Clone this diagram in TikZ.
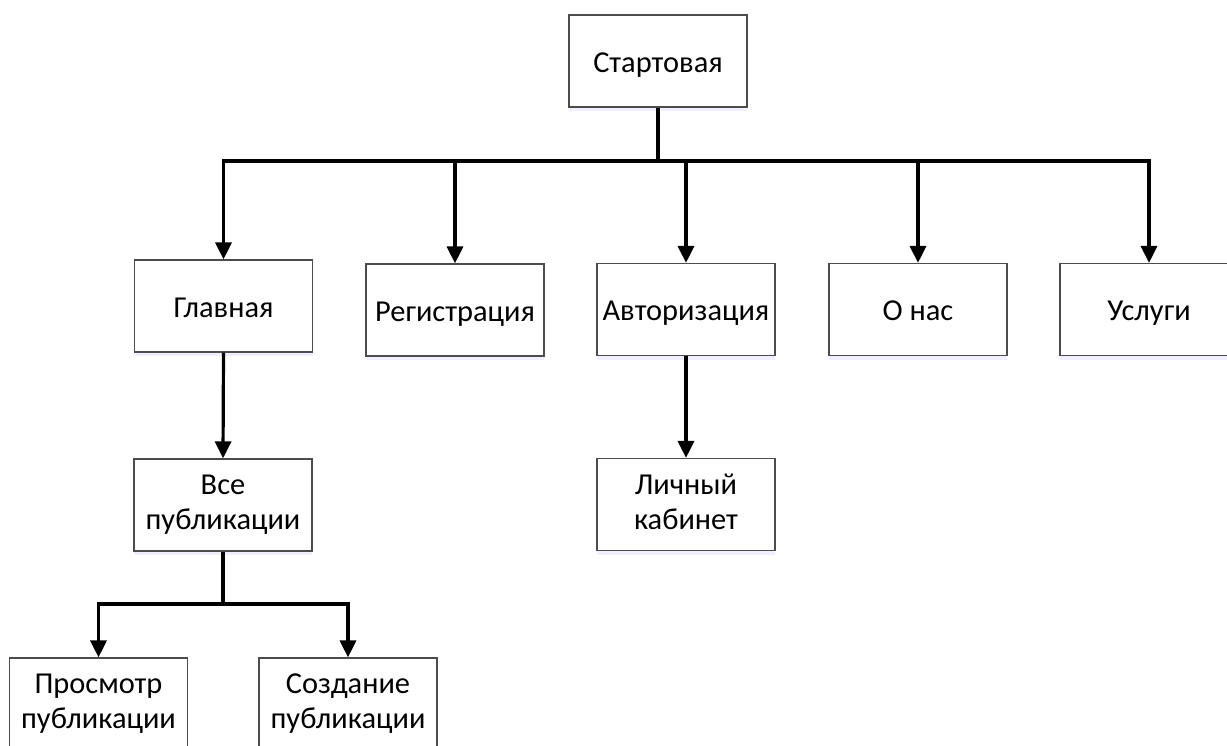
\documentclass[tikz,border=0pt]{standalone}
\usepackage{fontspec}
\setmainfont{Carlito}
\usetikzlibrary{arrows.meta,shadows}

\begin{document}
\begin{tikzpicture}[x=0.5pt,y=-0.5pt,
  page/.style={draw=black!70, line width=0.6pt, fill=white,
    minimum width=89pt, minimum height=46pt, inner sep=0pt,
    align=center, font=\fontsize{15.2pt}{17.5pt}\selectfont,
    execute at begin node={\rule{0pt}{13.5pt}},
    execute at end node={\rule[-2.5pt]{0pt}{2.5pt}},
    drop shadow={shadow xshift=0pt, shadow yshift=-2pt,
      fill=blue!10, opacity=0.6}},
  conn/.style={line width=1.6pt, -{Triangle[width=8pt,length=8.5pt]}},
  trunk/.style={line width=1.6pt}]
  \useasboundingbox (0,0) rectangle (1227,745);

  % pages of the site
  \node[page] (start)  at (658,61)    {Стартовая};
  \node[page] (main)   at (223.5,306) {Главная};
  \node[page] (reg)    at (455,310)   {Регистрация};
  \node[page] (auth)   at (686,309.5) {Авторизация};
  \node[page] (about)  at (918,309.5) {О нас};
  \node[page] (serv)   at (1149,309.5){Услуги};
  \node[page] (allpub) at (223,505)   {Все\\публикации};
  \node[page] (cabinet)at (686,504.5) {Личный\\кабинет};
  \node[page] (view)   at (98.5,704)  {Просмотр\\публикации};
  \node[page] (create) at (348,704)   {Создание\\публикации};

  % junction points of the branching lines
  \coordinate (bus)    at (658,161);
  \coordinate (pubbus) at (223,604);

  % links from the start page
  \draw[trunk] (start.south) -- (bus);
  \draw[conn] (bus) -| (main.north);
  \draw[conn] (bus) -| (reg.north);
  \draw[conn] (bus) -| (auth.north);
  \draw[conn] (bus) -| (about.north);
  \draw[conn] (bus) -| (serv.north);

  % second level
  \draw[conn] (main.south) -- (allpub.north);
  \draw[conn] (auth.south) -- (cabinet.north);

  % publications branch
  \draw[trunk] (allpub.south) -- (pubbus);
  \draw[conn] (pubbus) -| (view.north);
  \draw[conn] (pubbus) -| (create.north);
\end{tikzpicture}
\end{document}
